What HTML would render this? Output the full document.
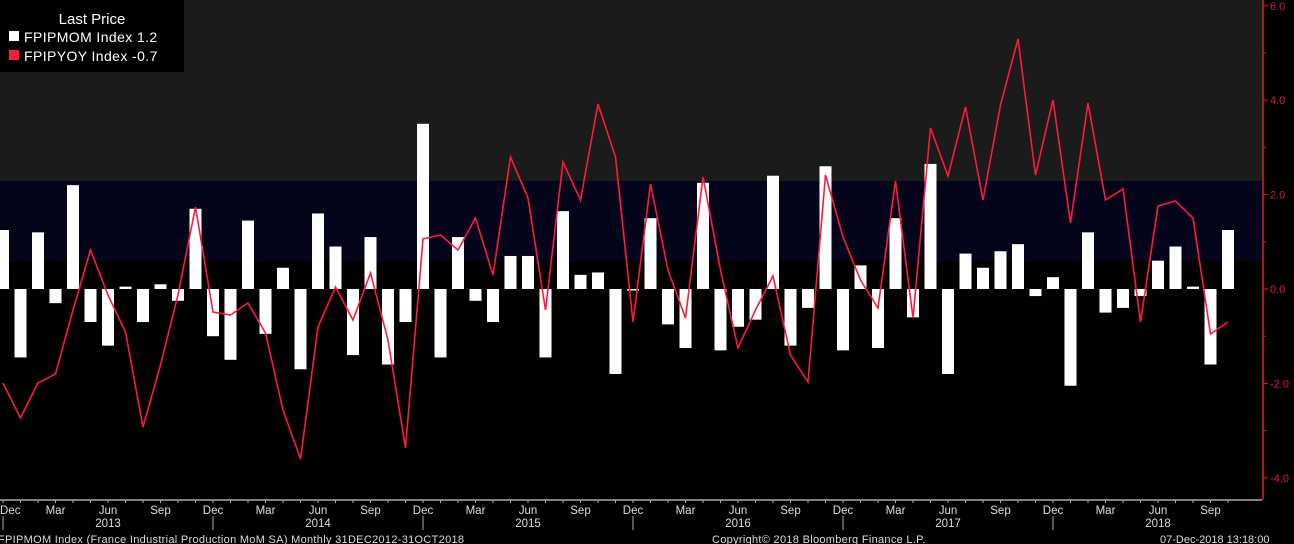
<!DOCTYPE html>
<html><head><meta charset="utf-8"><style>
body{margin:0;background:#000;}
svg{display:block;font-family:"Liberation Sans",sans-serif;}
</style></head><body>
<svg width="1294" height="544" xmlns="http://www.w3.org/2000/svg">
<rect x="0" y="0" width="1294" height="544" fill="#000"/>
<rect x="0" y="0" width="1262" height="181" fill="#1b1b1b"/>
<rect x="0" y="181" width="1262" height="80" fill="#04041a"/>
<g id="bars" fill="#fff"></g>
<polyline id="line" fill="none" stroke="#ff1a3c" stroke-width="1.6" points=""/>
<line x1="1263" y1="0" x2="1263" y2="500" stroke="#e8183a" stroke-width="1.5"/>
<g fill="#e8183a" font-size="11" id="yt"></g>
<line x1="0" y1="500" x2="1262" y2="500" stroke="#aaa" stroke-width="1.5"/>
<g id="xt" fill="#ddd" font-size="11.5"></g>
<text x="-2" y="543" fill="#ddd" font-size="11" letter-spacing="0.3">FPIPMOM Index (France Industrial Production MoM SA)  Monthly 31DEC2012-31OCT2018</text>
<text x="712" y="543" fill="#ddd" font-size="11" letter-spacing="0.3">Copyright© 2018 Bloomberg Finance L.P.</text>
<text x="1160" y="543" fill="#ddd" font-size="11">07-Dec-2018 13:18:00</text>
<rect x="0" y="0" width="184" height="72" fill="#000"/>
<text x="92" y="24" fill="#fff" font-size="15" text-anchor="middle">Last Price</text>
<rect x="9" y="31" width="10" height="10" fill="#fff"/>
<text x="24" y="42" fill="#fff" font-size="14" letter-spacing="0.4">FPIPMOM Index 1.2</text>
<rect x="9" y="50" width="10" height="10" fill="#ff1a3c"/>
<text x="24" y="61" fill="#fff" font-size="14" letter-spacing="0.4">FPIPYOY Index  -0.7</text>
</svg>
<script>
var ns="http://www.w3.org/2000/svg";
var bars=[1.25,-1.45,1.2,-0.3,2.2,-0.7,-1.2,0.05,-0.7,0.1,-0.25,1.7,-1.0,-1.5,1.45,-0.95,0.45,-1.7,1.6,0.9,-1.4,1.1,-1.6,-0.7,3.5,-1.45,1.1,-0.25,-0.7,0.7,0.7,-1.45,1.65,0.3,0.35,-1.8,-0.02,1.5,-0.75,-1.25,2.25,-1.3,-0.8,-0.65,2.4,-1.2,-0.4,2.6,-1.3,0.5,-1.25,1.5,-0.6,2.65,-1.8,0.75,0.45,0.8,0.95,-0.15,0.25,-2.05,1.2,-0.5,-0.4,-0.15,0.6,0.9,0.05,-1.6,1.25];
var ly=[383,418,383,374,310,250,295,332,427,365,295,207,312,315,303,333,410,459,327,287,320,273,340,448,239,235,250,218,275,157,198,310,162,200,104,157,322,184,270,318,177,270,348,310,276,355,382,175,237,280,308,181,318,128,176,107,200,105,39,175,100,223,103,200,189,322,206,201,218,334,322];
function X(i){return 3+i*17.5;}
var z=289,s=47.2,g=document.getElementById("bars");
bars.forEach(function(v,i){var r=document.createElementNS(ns,"rect");var h=Math.abs(v)*s;r.setAttribute("x",X(i)-6);r.setAttribute("width",12);r.setAttribute("y",v>=0?z-h:z);r.setAttribute("height",Math.max(h,1.5));g.appendChild(r);});
document.getElementById("line").setAttribute("points",ly.map(function(y,i){return X(i)+","+y;}).join(" "));
var yt=document.getElementById("yt");
[6,4,2,0,-2,-4].forEach(function(v){var y=z-v*s;var t=document.createElementNS(ns,"text");t.setAttribute("x",1270);t.setAttribute("y",y+4);t.textContent=v.toFixed(1);yt.appendChild(t);var l=document.createElementNS(ns,"line");l.setAttribute("x1",1263);l.setAttribute("x2",1268);l.setAttribute("y1",y);l.setAttribute("y2",y);l.setAttribute("stroke","#e8183a");yt.appendChild(l);});
for(var v=-3;v<=5;v+=2){var y=z-v*s;var l=document.createElementNS(ns,"line");l.setAttribute("x1",1263);l.setAttribute("x2",1266);l.setAttribute("y1",y);l.setAttribute("y2",y);l.setAttribute("stroke","#e8183a");yt.appendChild(l);}
var xt=document.getElementById("xt");var mn=["Dec","Mar","Jun","Sep"];
for(var i=0;i<71;i++){var x=X(i);var l=document.createElementNS(ns,"line");l.setAttribute("x1",x);l.setAttribute("x2",x);l.setAttribute("y1",500);l.setAttribute("y2",503);l.setAttribute("stroke","#aaa");xt.appendChild(l);
if(i%3==0){var t=document.createElementNS(ns,"text");t.setAttribute("x",x);t.setAttribute("y",514);t.setAttribute("text-anchor",i==0?"start":"middle");if(i==0)t.setAttribute("x",0);t.textContent=mn[(i/3)%4];xt.appendChild(t);}
if(i%12==0){var l2=document.createElementNS(ns,"line");l2.setAttribute("x1",x);l2.setAttribute("x2",x);l2.setAttribute("y1",516);l2.setAttribute("y2",530);l2.setAttribute("stroke","#aaa");xt.appendChild(l2);}
if(i%12==6){var t2=document.createElementNS(ns,"text");t2.setAttribute("x",x);t2.setAttribute("y",527);t2.setAttribute("text-anchor","middle");t2.textContent=2013+(i-6)/12;xt.appendChild(t2);}}
</script>
</body></html>
